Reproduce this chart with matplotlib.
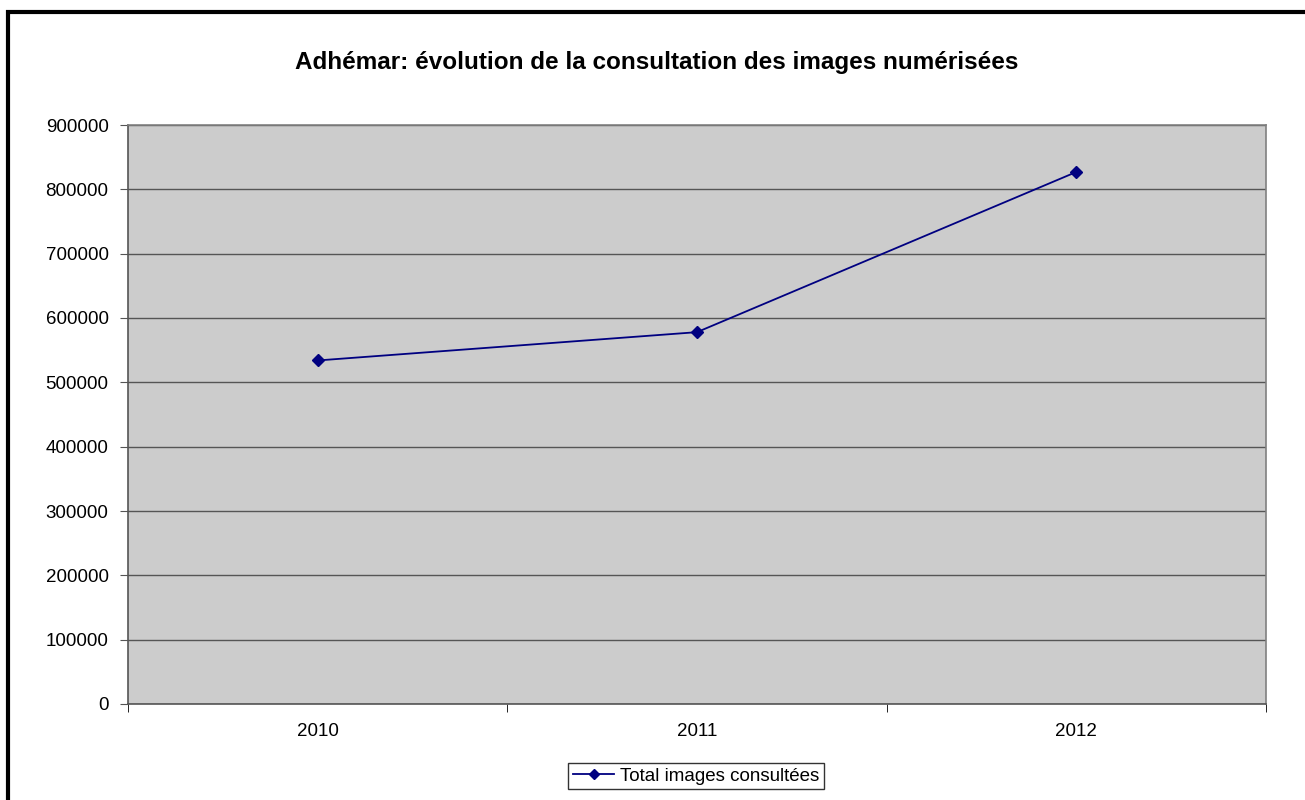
import matplotlib.pyplot as plt
from matplotlib.patches import Rectangle

plt.rcParams['font.family'] = ['Liberation Sans', 'DejaVu Sans']

years = ['2010', '2011', '2012']
total_images = [534000, 578000, 827000]

W, H = 1305, 800
fig = plt.figure(figsize=(W/100, H/100), dpi=100)

# outer frame (only left and top visible)
fig.patches.append(Rectangle((8/W, -0.5), 2.0, 1.5 - 12/H, transform=fig.transFigure,
                             fill=False, edgecolor='black', linewidth=3.0))

ax = fig.add_axes([128/W, 1 - 704/H, (1266-128)/W, (704-125)/H])
ax.set_facecolor('#cccccc')

x = range(len(years))
ax.plot(x, total_images, color='#000080', marker='D', markersize=6, linewidth=1.3,
        label='Total images consultées', zorder=3)

ax.set_xlim(-0.5, 2.5)
ax.set_ylim(0, 900000)
ax.set_yticks(range(0, 900001, 100000))
ax.set_yticklabels([str(v) for v in range(0, 900001, 100000)])
ax.set_xticks(list(x))
ax.set_xticklabels(years)
ax.set_xticks([-0.5, 0.5, 1.5, 2.5], minor=True)
ax.tick_params(axis='x', which='major', length=0, pad=14, labelsize=13.5)
ax.tick_params(axis='x', which='minor', length=6, color='black', direction='out')
ax.tick_params(axis='y', length=6, color='#555555', labelsize=13.5, pad=8)
ax.yaxis.grid(True, color='#555555', linewidth=1.0)
ax.set_axisbelow(True)

ax.spines['left'].set_color('#555555')
ax.spines['bottom'].set_color('#555555')
ax.spines['top'].set_color('#808080')
ax.spines['right'].set_color('#808080')
for s in ax.spines.values():
    s.set_linewidth(1.2)

fig.text(657/W, 1 - 62/H, 'Adhémar: évolution de la consultation des images numérisées',
         ha='center', va='center', fontsize=17.5, fontweight='bold')

leg = ax.legend(loc='center', bbox_to_anchor=(696/W, 1 - 776/H), bbox_transform=fig.transFigure,
                frameon=True, fancybox=False, edgecolor='black', fontsize=13.5,
                handlelength=2.2, handletextpad=0.3, borderpad=0.25, borderaxespad=0)
leg.get_frame().set_linewidth(1.0)
leg.legend_handles[0].set_markersize(5)

fig.savefig('out.png', dpi=100, facecolor='white')
